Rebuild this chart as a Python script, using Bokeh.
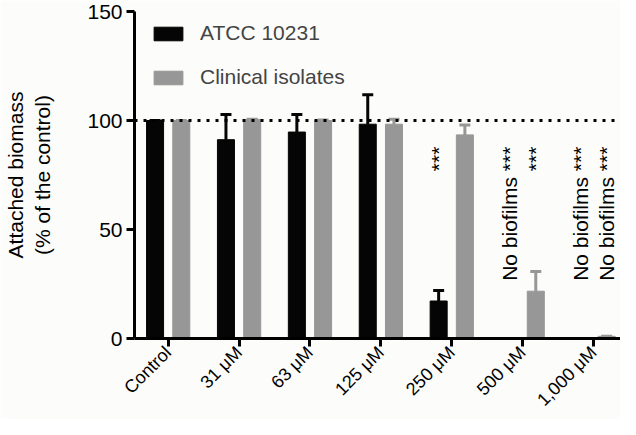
import math
from bokeh.plotting import figure
from bokeh.models import (ColumnDataSource, FixedTicker, Range1d, Span, Whisker,
                          Legend, LegendItem, TeeHead)
from bokeh.core.properties import value
from bokeh.embed import file_html
from bokeh.resources import INLINE

categories = ["Control", "31 μM", "63 μM", "125 μM", "250 μM", "500 μM", "1,000 μM"]
atcc_values = [100, 91.2, 94.7, 98.3, 17.2, None, None]
atcc_err_top = [100, 102.8, 102.8, 111.8, 22.0, None, None]
clin_values = [100, 100.5, 100, 98.3, 93.4, 21.7, 1.0]
clin_err_top = [100, 100.6, 100.2, 100.6, 97.9, 30.7, 1.0]
series_names = ["ATCC 10231", "Clinical isolates"]
notes_atcc = [None, None, None, None, "***", "No biofilms ***", "No biofilms ***"]
notes_clin = [None, None, None, None, None, "***", "No biofilms ***"]
note_top = 88
control_level = 100

FONT = "Liberation Sans"
FS = "21px"
TICK_FS = "18px"
BLACK = "#050505"
GRAY = "#979797"
OFF = 0.185
BW = 0.24

idx = list(range(len(categories)))

def present(vals, errs, shift):
    xs, vs, es = [], [], []
    for i, v, e in zip(idx, vals, errs):
        if v is not None:
            xs.append(i + shift); vs.append(v); es.append(e)
    return ColumnDataSource(dict(x=xs, top=vs, err=es))

src_a = present(atcc_values, atcc_err_top, -OFF)
src_c = present(clin_values, clin_err_top, OFF)

p = figure(width=620, height=419, output_backend="svg", toolbar_location=None,
           x_range=Range1d(-0.475, 6.38), y_range=Range1d(0, 150),
           min_border_left=127, min_border_right=0, min_border_top=11,
           min_border_bottom=78)
p.background_fill_color = "#fcfcfa"
p.border_fill_color = "#fcfcfa"
p.outline_line_color = None
p.grid.visible = False

r_a = p.vbar(x="x", top="top", width=BW, source=src_a, color=BLACK)
r_c = p.vbar(x="x", top="top", width=BW, source=src_c, color=GRAY)

for src, col in ((src_a, BLACK), (src_c, GRAY)):
    w = Whisker(base="x", lower="top", upper="err", source=src,
                line_color=col, line_width=3, lower_head=None,
                upper_head=TeeHead(size=11, line_color=col, line_width=3))
    p.add_layout(w)

p.add_layout(Span(location=control_level, dimension="width", line_color="black",
                  line_width=3, line_dash="3 6"))

nx, nt = [], []
for i, t in zip(idx, notes_atcc):
    if t:
        nx.append(i - OFF); nt.append(t)
for i, t in zip(idx, notes_clin):
    if t:
        nx.append(i + OFF); nt.append(t)
p.text(x=nx, y=[note_top] * len(nx), text=nt, angle=math.pi / 2,
       text_align="right", text_baseline="middle",
       text_font=value(FONT), text_font_size=FS, text_color="black")

legend = Legend(items=[LegendItem(label=series_names[0], renderers=[r_a]),
                       LegendItem(label=series_names[1], renderers=[r_c])],
                location=(16, 249), orientation="vertical",
                glyph_width=36, glyph_height=17, label_height=24,
                spacing=20, padding=0, margin=0, label_standoff=14,
                label_text_font=FONT, label_text_font_size=FS,
                background_fill_alpha=0, border_line_color=None)
p.add_layout(legend)

for ax in (p.xaxis[0], p.yaxis[0]):
    ax.axis_line_width = 3
    ax.major_tick_line_width = 3
    ax.major_tick_out = 8
    ax.major_tick_in = 0
    ax.minor_tick_line_color = None
    ax.major_label_text_font = FONT
    ax.major_label_text_color = "black"
    ax.axis_line_color = "black"
    ax.major_tick_line_color = "black"

p.xaxis.ticker = FixedTicker(ticks=idx)
p.xaxis.major_label_overrides = {i: c for i, c in zip(idx, categories)}
p.xaxis.major_label_orientation = math.pi / 4
p.xaxis.major_label_standoff = 3
p.xaxis.major_label_text_font_size = TICK_FS

p.yaxis.ticker = FixedTicker(ticks=[0, 50, 100, 150])
p.yaxis.major_label_standoff = 4
p.yaxis.major_label_text_font_size = FS
p.yaxis.axis_label = "Attached biomass\n(% of the control)"
p.yaxis.axis_label_text_font = FONT
p.yaxis.axis_label_text_font_size = FS
p.yaxis.axis_label_text_font_style = "normal"
p.yaxis.axis_label_text_color = "black"
p.yaxis.axis_label_standoff = 30

open("out.html", "w").write(file_html(p, INLINE))
